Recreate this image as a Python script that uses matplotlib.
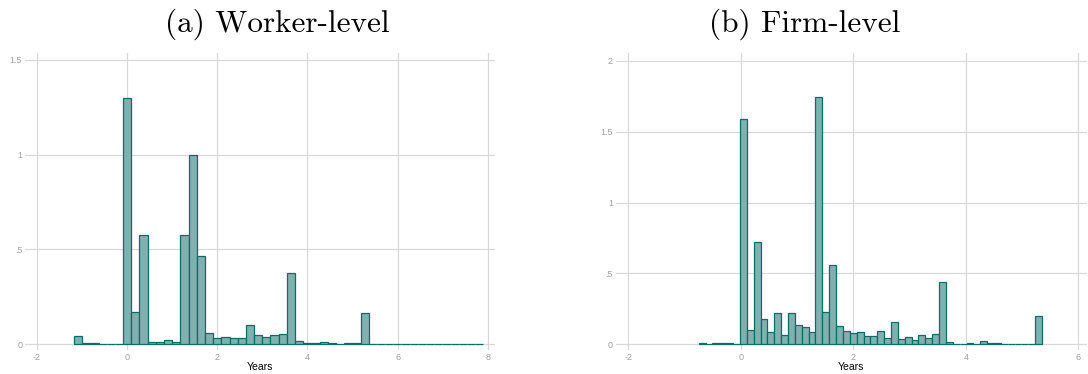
#
# Histograms of years between events, worker and firm level
#
import numpy as np
import matplotlib
matplotlib.use('Agg')
import matplotlib.pyplot as plt

plt.rcParams['axes.unicode_minus'] = False
plt.rcParams['font.family'] = ['Liberation Sans', 'DejaVu Sans']

# Worker-level: 50 bins
worker_start = -1.175
worker_width = 0.1815
worker_density = [0.046, 0.009, 0.006, 0.004, 0.003, 0.003, 1.296, 0.169, 0.575, 0.015,
                  0.015, 0.025, 0.012, 0.578, 0.997, 0.466, 0.058, 0.036, 0.039, 0.035,
                  0.035, 0.104, 0.050, 0.040, 0.050, 0.056, 0.378, 0.016, 0.009, 0.006,
                  0.015, 0.009, 0.002, 0.005, 0.005, 0.165, 0.002, 0.002, 0.002, 0.002,
                  0.002, 0.002, 0.002, 0.002, 0.002, 0.002, 0.002, 0.002, 0.002, 0.002]
worker_yticks = [0, 0.5, 1, 1.5]
worker_ylabels = ['0', '.5', '1', '1.5']
worker_xticks = [-2, 0, 2, 4, 6, 8]

# Firm-level: 50 bins
firm_start = -0.747
firm_width = 0.122
firm_density = [0.010, 0.002, 0.012, 0.008, 0.008, 0.005, 1.586, 0.101, 0.725, 0.181,
                0.085, 0.219, 0.068, 0.224, 0.134, 0.125, 0.089, 1.748, 0.228, 0.557,
                0.127, 0.096, 0.082, 0.089, 0.056, 0.061, 0.096, 0.047, 0.158, 0.038,
                0.054, 0.031, 0.066, 0.042, 0.075, 0.442, 0.014, 0.002, 0.002, 0.009,
                0.005, 0.026, 0.012, 0.007, 0.001, 0.004, 0.001, 0.005, 0.001, 0.202]
firm_yticks = [0, 0.5, 1, 1.5, 2]
firm_ylabels = ['0', '.5', '1', '1.5', '2']
firm_xticks = [-2, 0, 2, 4, 6]

fill_color = '#7fb1af'
edge_color = '#0f6b66'
grid_color = '#d9d9d9'
tick_color = '#a0a0a0'


def draw_hist(ax, start, width, density, xticks, yticks, ylabels, xlim, ylim):
    edges = start + width*np.arange(len(density))
    ax.bar(edges, density, width=width, align='edge', color=fill_color,
           edgecolor=edge_color, linewidth=0.9, zorder=3)
    ax.set_xlim(*xlim)
    ax.set_ylim(*ylim)
    ax.set_xticks(xticks)
    ax.set_xticklabels([str(t) for t in xticks])
    ax.set_yticks(yticks)
    ax.set_yticklabels(ylabels)
    ax.grid(True, color=grid_color, linewidth=0.9, zorder=0)
    for s in ax.spines.values():
        s.set_visible(False)
    ax.tick_params(length=0, labelsize=6.5, labelcolor=tick_color, pad=2)
    ax.set_xlabel('Years', fontsize=7.5, labelpad=0)


fig = plt.figure(figsize=(10.88, 3.74), dpi=100)

ax1 = fig.add_axes([0.023, 0.064, 0.432, 0.794])
draw_hist(ax1, worker_start, worker_width, worker_density, worker_xticks,
          worker_yticks, worker_ylabels, (-2.26, 8.16), (-0.03, 1.535))

ax2 = fig.add_axes([0.566, 0.064, 0.433, 0.794])
draw_hist(ax2, firm_start, firm_width, firm_density, firm_xticks,
          firm_yticks, firm_ylabels, (-2.22, 6.15), (-0.04, 2.054))

fig.text(0.255, 0.935, '(a) Worker-level', family='cmr10', fontsize=22.5,
         ha='center', va='center')
fig.text(0.74, 0.935, '(b) Firm-level', family='cmr10', fontsize=22.5,
         ha='center', va='center')

plt.savefig('out.png', dpi=100)
